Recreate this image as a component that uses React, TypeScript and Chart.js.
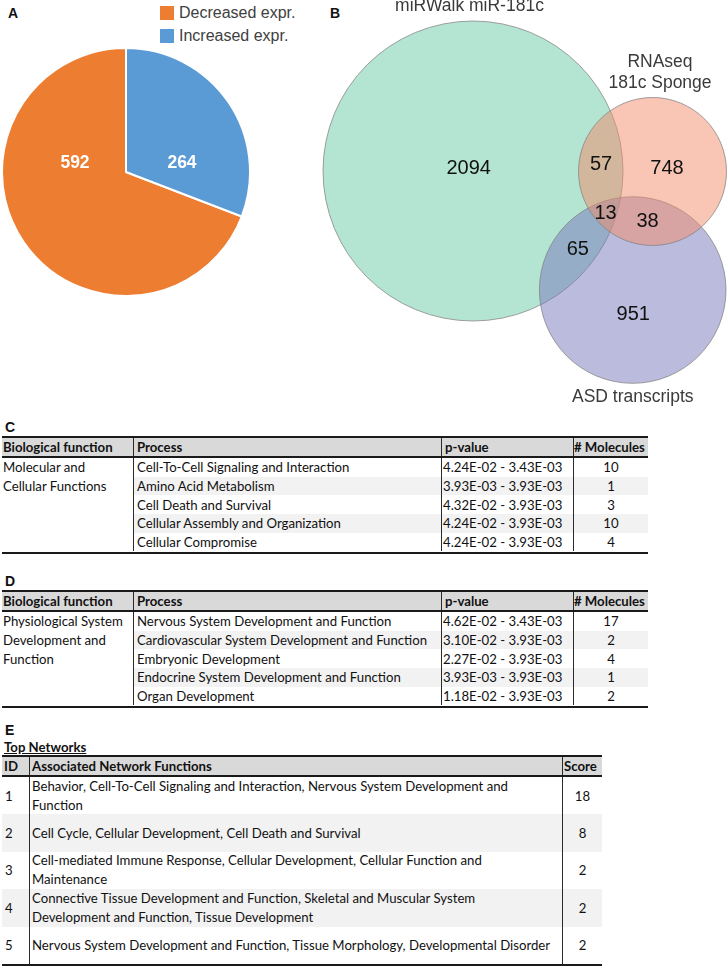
import React, { useEffect, useRef } from "react";
import { Chart, registerables } from "chart.js";
Chart.register(...registerables);

// ---------- Panel A data ----------
const pieLabels = ["Decreased expr.", "Increased expr."];
const pieValues = [592, 264];
const pieColors = ["#ED7D31", "#5B9BD5"];
const pieValueLabelOffsets = [[-51, -9], [56, -9]];

// ---------- Panel B data ----------
const vennSetNames = [["miRWalk miR-181c"], ["RNAseq", "181c Sponge"], ["ASD transcripts"]];
const vennSetX = [473, 652.5, 632.7];
const vennSetY = [171, 171.5, 290];
const vennSetR = [150, 74, 93.3];
const vennSetFill = ["rgba(105,201,165,0.5)", "rgba(243,139,105,0.5)", "rgba(119,119,187,0.5)"];
const vennSetOrder = [3, 1, 2];
const vennNameX = [469.5, 660, 632.8];
const vennNameY = [6, 72.7, 396.7];
const vennRegionCounts = [2094, 57, 748, 13, 38, 65, 951];
const vennRegionX = [468.7, 601, 667, 605.5, 647.5, 577.8, 633.3];
const vennRegionY = [168, 164.5, 168, 213, 221, 249.5, 314];

// ---------- Panel C data ----------
const cFunctionLines = ["Molecular and", "Cellular Functions"];
const cProcesses = [
  "Cell-To-Cell Signaling and Interaction",
  "Amino Acid Metabolism",
  "Cell Death and Survival",
  "Cellular Assembly and Organization",
  "Cellular Compromise",
];
const cPValues = [
  "4.24E-02 - 3.43E-03",
  "3.93E-03 - 3.93E-03",
  "4.32E-02 - 3.93E-03",
  "4.24E-02 - 3.93E-03",
  "4.24E-02 - 3.93E-03",
];
const cMolecules = [10, 1, 3, 10, 4];

// ---------- Panel D data ----------
const dFunctionLines = ["Physiological System", "Development and", "Function"];
const dProcesses = [
  "Nervous System Development and Function",
  "Cardiovascular System Development and Function",
  "Embryonic Development",
  "Endocrine System Development and Function",
  "Organ Development",
];
const dPValues = [
  "4.62E-02 - 3.43E-03",
  "3.10E-02 - 3.93E-03",
  "2.27E-02 - 3.93E-03",
  "3.93E-03 - 3.93E-03",
  "1.18E-02 - 3.93E-03",
];
const dMolecules = [17, 2, 4, 1, 2];

// ---------- Panel E data ----------
const eIds = [1, 2, 3, 4, 5];
const eFunctionLines = [
  ["Behavior, Cell-To-Cell Signaling and Interaction, Nervous System Development and", "Function"],
  ["Cell Cycle, Cellular Development, Cell Death and Survival"],
  ["Cell-mediated Immune Response, Cellular Development, Cellular Function and", "Maintenance"],
  ["Connective Tissue Development and Function, Skeletal and Muscular System", "Development and Function, Tissue Development"],
  ["Nervous System Development and Function, Tissue Morphology, Developmental Disorder"],
];
const eScores = [18, 8, 2, 2, 2];

const SANS = "'Liberation Sans', Arial, sans-serif";
const TFONT = "Lato, 'Open Sans', sans-serif";
const TSIZE = 13.2;
const RULE = "#1a1a1a";
const VLINE = "1px solid #2a2a2a";

function PieChart() {
  const ref = useRef<HTMLCanvasElement>(null);
  useEffect(() => {
    const total = pieValues.reduce((a, b) => a + b, 0);
    const labelPlugin = {
      id: "pieValueLabels",
      afterDatasetsDraw(chart: any) {
        const ctx = chart.ctx;
        const meta = chart.getDatasetMeta(0);
        ctx.save();
        ctx.fillStyle = "#ffffff";
        ctx.font = `bold 17.5px ${SANS}`;
        ctx.textAlign = "center";
        ctx.textBaseline = "middle";
        meta.data.forEach((arc: any, i: number) => {
          const [dx, dy] = pieValueLabelOffsets[i];
          ctx.fillText(String(pieValues[i]), arc.x + dx, arc.y + dy);
        });
        ctx.restore();
      },
    };
    const chart = new Chart(ref.current!, {
      type: "pie",
      data: {
        labels: pieLabels,
        datasets: [
          {
            data: pieValues,
            backgroundColor: pieColors,
            borderColor: "#ffffff",
            borderWidth: 2,
          },
        ],
      },
      options: {
        responsive: false,
        animation: false,
        events: [],
        rotation: (pieValues[1] / total) * 360,
        layout: { padding: 0 },
        plugins: { legend: { display: false }, tooltip: { enabled: false } },
      },
      plugins: [labelPlugin],
    });
    return () => chart.destroy();
  }, []);
  return (
    <canvas
      ref={ref}
      width={250}
      height={250}
      style={{ position: "absolute", left: 1, top: 47, width: 250, height: 250 }}
    />
  );
}

function VennChart() {
  const ref = useRef<HTMLCanvasElement>(null);
  useEffect(() => {
    const textPlugin = {
      id: "vennText",
      afterDatasetsDraw(chart: any) {
        const ctx = chart.ctx;
        const xs = chart.scales.x;
        const ys = chart.scales.y;
        ctx.save();
        ctx.textAlign = "center";
        ctx.textBaseline = "middle";
        ctx.fillStyle = "#111111";
        ctx.font = `20px ${SANS}`;
        vennRegionCounts.forEach((c, i) => {
          ctx.fillText(String(c), xs.getPixelForValue(vennRegionX[i]), ys.getPixelForValue(vennRegionY[i]));
        });
        ctx.fillStyle = "#3a3a3a";
        ctx.font = `17.5px ${SANS}`;
        vennSetNames.forEach((lines, i) => {
          const lh = 21.3;
          const start = vennNameY[i] - ((lines.length - 1) * lh) / 2;
          lines.forEach((l, j) => {
            ctx.fillText(l, xs.getPixelForValue(vennNameX[i]), ys.getPixelForValue(start + j * lh));
          });
        });
        ctx.restore();
      },
    };
    const chart = new Chart(ref.current!, {
      type: "bubble",
      data: {
        datasets: vennSetX.map((x, i) => ({
          label: vennSetNames[i].join(" "),
          data: [{ x, y: vennSetY[i], r: vennSetR[i] }],
          backgroundColor: vennSetFill[i],
          borderColor: "rgba(130,130,130,0.75)",
          borderWidth: 1,
          order: vennSetOrder[i],
          clip: false,
        })) as any,
      },
      options: {
        responsive: false,
        animation: false,
        events: [],
        layout: { padding: 0, autoPadding: false },
        scales: {
          x: { type: "linear", min: 290, max: 728, display: false },
          y: { type: "linear", min: 0, max: 420, reverse: true, display: false },
        },
        plugins: { legend: { display: false }, tooltip: { enabled: false } },
      } as any,
      plugins: [textPlugin],
    });
    return () => chart.destroy();
  }, []);
  return (
    <canvas
      ref={ref}
      width={438}
      height={420}
      style={{ position: "absolute", left: 290, top: 0, width: 438, height: 420 }}
    />
  );
}

function PanelLabel({ text, left, top }: { text: string; left: number; top: number }) {
  return (
    <div
      style={{
        position: "absolute",
        left,
        top,
        font: `bold 14px ${SANS}`,
        lineHeight: "14px",
        color: "#111",
      }}
    >
      {text}
    </div>
  );
}

const cellBase: React.CSSProperties = {
  boxSizing: "border-box",
  whiteSpace: "nowrap",
  display: "flex",
  alignItems: "center",
  overflow: "visible",
};

function FuncTable({
  top,
  funcLines,
  processes,
  pvalues,
  molecules,
}: {
  top: number;
  funcLines: string[];
  processes: string[];
  pvalues: string[];
  molecules: number[];
}) {
  const cols = [131, 308, 132, 75];
  const width = cols.reduce((a, b) => a + b, 0);
  const rowH = 18.7;
  const headers = ["Biological function", "Process", "p-value", "# Molecules"];
  return (
    <div
      style={{
        position: "absolute",
        left: 2,
        top,
        width,
        fontFamily: TFONT,
        fontSize: TSIZE,
        color: "#111",
      }}
    >
      <div style={{ height: 2, background: RULE }} />
      <div style={{ display: "flex", height: 18, background: "#d9d9d9" }}>
        {headers.map((h, i) => (
          <div
            key={i}
            style={{
              ...cellBase,
              width: cols[i],
              borderLeft: i ? VLINE : "none",
              paddingLeft: i === 3 ? 0 : i ? 3 : 1,
              fontWeight: 700,
            }}
          >
            {h}
          </div>
        ))}
      </div>
      <div style={{ height: 2, background: RULE }} />
      <div style={{ display: "flex", height: rowH * processes.length }}>
        <div style={{ width: cols[0], paddingLeft: 1, boxSizing: "border-box" }}>
          {funcLines.map((l, i) => (
            <div key={i} style={{ ...cellBase, height: rowH }}>
              {l}
            </div>
          ))}
        </div>
        <div style={{ width: width - cols[0] }}>
          {processes.map((p, r) => (
            <div key={r} style={{ display: "flex", height: rowH, background: r % 2 ? "#f2f2f2" : "#ffffff" }}>
              <div style={{ ...cellBase, width: cols[1], borderLeft: VLINE, paddingLeft: 3 }}>{p}</div>
              <div style={{ ...cellBase, width: cols[2], borderLeft: VLINE, paddingLeft: 1 }}>{pvalues[r]}</div>
              <div style={{ ...cellBase, width: cols[3], borderLeft: VLINE, justifyContent: "center" }}>
                {molecules[r]}
              </div>
            </div>
          ))}
        </div>
      </div>
      <div style={{ height: 2, background: RULE }} />
    </div>
  );
}

function NetworkTable({ top }: { top: number }) {
  const cols = [27, 533, 40];
  const width = cols.reduce((a, b) => a + b, 0);
  const rowH = 37.4;
  const headers = ["ID", "Associated Network Functions", "Score"];
  return (
    <div
      style={{
        position: "absolute",
        left: 2,
        top,
        width,
        fontFamily: TFONT,
        fontSize: TSIZE,
        color: "#111",
      }}
    >
      <div style={{ height: 2, background: RULE }} />
      <div style={{ display: "flex", height: 18, background: "#d9d9d9" }}>
        {headers.map((h, i) => (
          <div
            key={i}
            style={{
              ...cellBase,
              width: cols[i],
              borderLeft: i ? VLINE : "none",
              paddingLeft: i === 2 ? 1 : 2,
              fontWeight: 700,
            }}
          >
            {h}
          </div>
        ))}
      </div>
      <div style={{ height: 2, background: RULE }} />
      {eIds.map((id, r) => (
        <div key={r} style={{ display: "flex", height: rowH, background: r % 2 ? "#f2f2f2" : "#ffffff" }}>
          <div style={{ ...cellBase, width: cols[0], paddingLeft: 3 }}>{id}</div>
          <div
            style={{
              ...cellBase,
              width: cols[1],
              borderLeft: VLINE,
              paddingLeft: 2,
              flexDirection: "column",
              alignItems: "flex-start",
              justifyContent: "center",
            }}
          >
            {eFunctionLines[r].map((l, j) => (
              <div key={j} style={{ lineHeight: "19px" }}>
                {l}
              </div>
            ))}
          </div>
          <div style={{ ...cellBase, width: cols[2], borderLeft: VLINE, justifyContent: "center" }}>{eScores[r]}</div>
        </div>
      ))}
      <div style={{ height: 2, background: RULE }} />
    </div>
  );
}

export default function App() {
  return (
    <div
      style={{
        position: "absolute",
        left: 0,
        top: 0,
        width: 728,
        height: 966,
        background: "#ffffff",
        overflow: "hidden",
      }}
    >
      <PanelLabel text="A" left={8} top={6} />
      <PanelLabel text="B" left={330} top={6} />
      {pieLabels.map((l, i) => (
        <div key={i} style={{ position: "absolute", left: 160, top: 6 + i * 23, height: 14, display: "flex", alignItems: "center" }}>
          <div style={{ width: 14, height: 14, background: pieColors[i] }} />
          <div style={{ marginLeft: 5, font: `16px ${SANS}`, color: "#404040", lineHeight: "14px", whiteSpace: "nowrap" }}>{l}</div>
        </div>
      ))}
      <PieChart />
      <VennChart />

      <PanelLabel text="C" left={5} top={420} />
      <FuncTable top={436} funcLines={cFunctionLines} processes={cProcesses} pvalues={cPValues} molecules={cMolecules} />

      <PanelLabel text="D" left={5} top={574} />
      <FuncTable top={590} funcLines={dFunctionLines} processes={dProcesses} pvalues={dPValues} molecules={dMolecules} />

      <PanelLabel text="E" left={5} top={723} />
      <div
        style={{
          position: "absolute",
          left: 4,
          top: 740,
          fontFamily: TFONT,
          fontSize: TSIZE,
          fontWeight: 700,
          textDecoration: "underline",
          lineHeight: "14px",
          color: "#111",
        }}
      >
        Top Networks
      </div>
      <NetworkTable top={755} />
    </div>
  );
}
